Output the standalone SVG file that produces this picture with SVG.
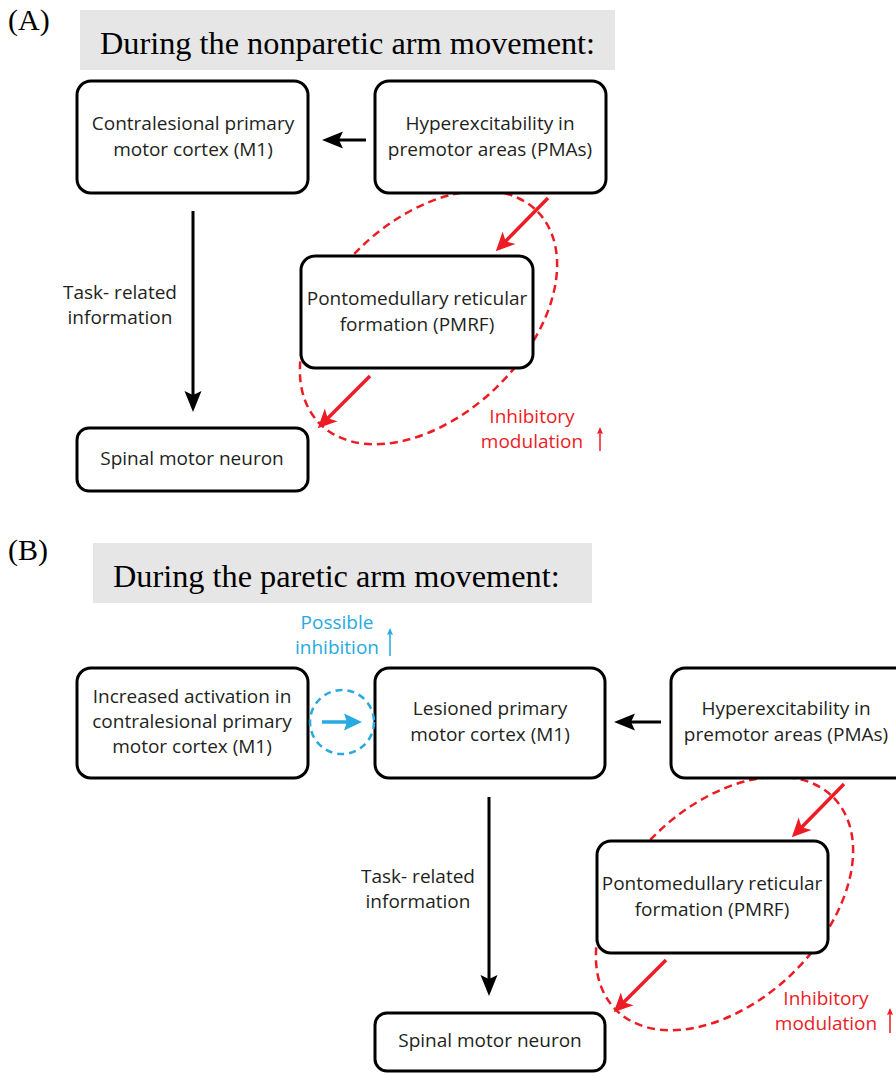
<svg xmlns="http://www.w3.org/2000/svg" width="896" height="1073" viewBox="0 0 896 1073">
  <style>
    .panel { font-family: "Liberation Serif", "Times New Roman", serif; font-size: 30px; fill: #000; }
    .title { font-family: "Liberation Serif", "Times New Roman", serif; font-size: 32.3px; fill: #000; }
    .band { fill: #e6e6e6; }
    .box { fill: #fff; stroke: #000; stroke-width: 3; }
    .lbl { font-family: "Open Sans", "Liberation Sans", sans-serif; font-size: 19px; fill: #231f20; text-anchor: middle; }
    .red { fill: #ed1c24; }
    .blue { fill: #27aae1; }
    .blk { stroke: #000; stroke-width: 3; fill: none; }
    .redline { stroke: #ed1c24; stroke-width: 3.5; fill: none; }
    .loop { stroke: #ed1c24; stroke-width: 2.5; fill: none; stroke-dasharray: 8 5; }
    .thin-red { stroke: #ed1c24; stroke-width: 1.5; fill: none; }
    .thin-blue { stroke: #27aae1; stroke-width: 1.5; fill: none; }
  </style>
  <defs>
    <marker id="headBlack" viewBox="-24 -10 32 20" markerWidth="32" markerHeight="20" refX="0" refY="0" orient="auto" markerUnits="userSpaceOnUse">
      <path d="M6,0 L-15,-8.5 L-11,0 L-15,8.5 Z" fill="#000"/>
    </marker>
    <marker id="headRed" viewBox="-24 -10 32 20" markerWidth="32" markerHeight="20" refX="0" refY="0" orient="auto" markerUnits="userSpaceOnUse">
      <path d="M6,0 L-13,-9 L-8,0 L-13,9 Z" fill="#ed1c24"/>
    </marker>
    <marker id="headBlue" viewBox="-24 -10 32 20" markerWidth="32" markerHeight="20" refX="0" refY="0" orient="auto" markerUnits="userSpaceOnUse">
      <path d="M6,0 L-12,-8.5 L-9,0 L-12,8.5 Z" fill="#27aae1"/>
    </marker>
    <marker id="tickRed" viewBox="-8 -5 12 10" markerWidth="12" markerHeight="10" refX="0" refY="0" orient="auto" markerUnits="userSpaceOnUse">
      <path d="M2,0 L-5,-3 L-4,0 L-5,3 Z" fill="#ed1c24"/>
    </marker>
    <marker id="tickBlue" viewBox="-8 -5 12 10" markerWidth="12" markerHeight="10" refX="0" refY="0" orient="auto" markerUnits="userSpaceOnUse">
      <path d="M2,0 L-5,-3 L-4,0 L-5,3 Z" fill="#27aae1"/>
    </marker>
  </defs>

  <!-- ===== Panel A ===== -->
  <text class="panel" x="8" y="30">(A)</text>
  <rect class="band" x="80" y="10" width="535" height="60"/>
  <text class="title" x="100" y="54">During the nonparetic arm movement:</text>

  <!-- inhibitory loop drawn first so the boxes cover it -->
  <g id="a-loop">
    <ellipse class="loop" cx="0" cy="0" rx="152" ry="97.5" transform="translate(428.5 317.5) rotate(-44)"/>
  </g>

  <g id="a-m1">
    <rect class="box" x="77" y="81" width="231" height="112" rx="14"/>
    <text class="lbl" x="193" y="130">Contralesional primary</text>
    <text class="lbl" x="193" y="156">motor cortex (M1)</text>
  </g>
  <g id="a-pmas">
    <rect class="box" x="375" y="81" width="231" height="112" rx="14"/>
    <text class="lbl" x="490" y="130">Hyperexcitability in</text>
    <text class="lbl" x="490" y="156">premotor areas (PMAs)</text>
  </g>
  <g id="a-pmrf">
    <rect class="box" x="301" y="256" width="232" height="112" rx="14"/>
    <text class="lbl" x="417" y="305">Pontomedullary reticular</text>
    <text class="lbl" x="417" y="331">formation (PMRF)</text>
  </g>
  <g id="a-spinal">
    <rect class="box" x="77" y="428" width="231" height="63" rx="12"/>
    <text class="lbl" x="192" y="465">Spinal motor neuron</text>
  </g>

  <g id="a-connectors">
    <line class="blk" x1="366" y1="140" x2="328" y2="140" marker-end="url(#headBlack)"/>
    <line class="blk" x1="193" y1="211" x2="193" y2="406" marker-end="url(#headBlack)"/>
    <line class="redline" x1="548" y1="198" x2="500" y2="247" marker-end="url(#headRed)"/>
    <line class="redline" x1="370" y1="376" x2="322" y2="424" marker-end="url(#headRed)"/>
    <line class="thin-red" x1="600" y1="451" x2="600" y2="429" marker-end="url(#tickRed)"/>
  </g>

  <g id="a-notes">
    <text class="lbl" x="120" y="299">Task- related</text>
    <text class="lbl" x="120" y="324">information</text>
    <text class="lbl red" x="532" y="423">Inhibitory</text>
    <text class="lbl red" x="532" y="448">modulation</text>
  </g>

  <!-- ===== Panel B ===== -->
  <text class="panel" x="8" y="560">(B)</text>
  <rect class="band" x="93" y="543" width="499" height="60"/>
  <text class="title" x="113" y="587">During the paretic arm movement:</text>

  <g id="b-loop">
    <ellipse class="loop" cx="0" cy="0" rx="152" ry="97.5" transform="translate(724.5 903.5) rotate(-44)"/>
  </g>

  <g id="b-contra">
    <rect class="box" x="77" y="668" width="231" height="110" rx="14"/>
    <text class="lbl" x="192" y="703">Increased activation in</text>
    <text class="lbl" x="192" y="728">contralesional primary</text>
    <text class="lbl" x="192" y="753">motor cortex (M1)</text>
  </g>
  <g id="b-lesioned">
    <rect class="box" x="375" y="668" width="230" height="110" rx="14"/>
    <text class="lbl" x="490" y="715">Lesioned primary</text>
    <text class="lbl" x="490" y="741">motor cortex (M1)</text>
  </g>
  <g id="b-pmas">
    <rect class="box" x="671" y="668" width="240" height="110" rx="14"/>
    <text class="lbl" x="786" y="715">Hyperexcitability in</text>
    <text class="lbl" x="786" y="741">premotor areas (PMAs)</text>
  </g>
  <g id="b-pmrf">
    <rect class="box" x="597" y="841" width="231" height="112" rx="14"/>
    <text class="lbl" x="712" y="890">Pontomedullary reticular</text>
    <text class="lbl" x="712" y="916">formation (PMRF)</text>
  </g>
  <g id="b-spinal">
    <rect class="box" x="375" y="1013" width="230" height="58" rx="12"/>
    <text class="lbl" x="490" y="1047">Spinal motor neuron</text>
  </g>

  <g id="b-connectors">
    <circle cx="342" cy="722" r="32" fill="none" stroke="#27aae1" stroke-width="2.5" stroke-dasharray="7 5"/>
    <line x1="322" y1="722" x2="356" y2="722" stroke="#27aae1" stroke-width="3.5" marker-end="url(#headBlue)"/>
    <line class="blk" x1="661" y1="722" x2="620" y2="722" marker-end="url(#headBlack)"/>
    <line class="blk" x1="489" y1="797" x2="489" y2="990" marker-end="url(#headBlack)"/>
    <line class="redline" x1="844" y1="784" x2="796" y2="833" marker-end="url(#headRed)"/>
    <line class="redline" x1="666" y1="960" x2="618" y2="1008" marker-end="url(#headRed)"/>
    <line class="thin-red" x1="890" y1="1033" x2="890" y2="1010" marker-end="url(#tickRed)"/>
    <line class="thin-blue" x1="390" y1="656" x2="390" y2="630" marker-end="url(#tickBlue)"/>
  </g>

  <g id="b-notes">
    <text class="lbl blue" x="337" y="629">Possible</text>
    <text class="lbl blue" x="337" y="654">inhibition</text>
    <text class="lbl" x="418" y="883">Task- related</text>
    <text class="lbl" x="418" y="908">information</text>
    <text class="lbl red" x="826" y="1005">Inhibitory</text>
    <text class="lbl red" x="826" y="1030">modulation</text>
  </g>
</svg>
